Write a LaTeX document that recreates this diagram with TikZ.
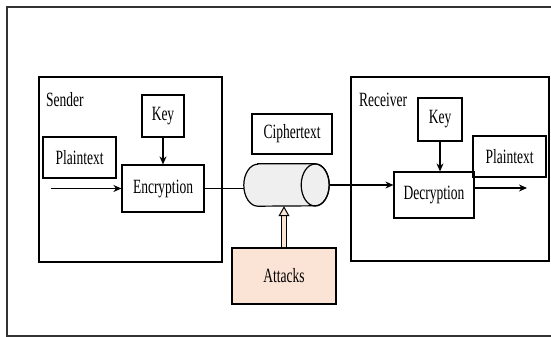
\documentclass[tikz,border=0pt]{standalone}
\usepackage{fontspec}
\setmainfont{Liberation Serif}
\usepackage{graphicx}
\usetikzlibrary{arrows.meta,positioning}
\definecolor{attackfill}{RGB}{251,228,213}
\definecolor{pipefill}{RGB}{239,239,239}
% the lettering is stretched upright
\newcommand{\tall}[1]{\scalebox{1}[1.5]{#1}}

\begin{document}
\begin{tikzpicture}[
            x=1pt,y=-1pt,
            every node/.style={
                inner sep=0pt,
                font=\fontsize{13.5}{16}\selectfont
            },
            box/.style={draw,rectangle,line width=1.2pt},
            flow/.style={line width=1.2pt,-{Stealth[length=8pt,width=7pt]}},
            link/.style={line width=1.2pt},
            hit/.style={double=attackfill,double distance=3.5pt,line width=1pt,
                -{Triangle[open,fill=attackfill,length=10pt,width=11pt]}}
        ]
    % Frame
        \useasboundingbox (0,0) rectangle (551,337);
        \draw[black!80,line width=1.4pt] (551,7) -- (7,7) -- (7,336) -- (551,336);
    % Sender
        \node[box,minimum width=183,minimum height=185] (sender) at (130.5,169.5) {};
        \node[anchor=west] (senderlbl) at (46,100) {\tall{Sender}};
        \node[box,minimum width=42,minimum height=42] (keya) at (163,116) {\tall{Key}};
        \node[box,minimum width=73,minimum height=41] (plaina) at (79.5,157.5) {\tall{Plaintext}};
        \node[box,minimum width=82,minimum height=47] (enc) at (163,188.5) {\tall{Encryption}};
        \coordinate (in) at (51,188.5);
    % Channel
        \node[minimum width=85,minimum height=42] (pipe) at (286.5,185) {};
        \draw[line width=1.2pt,fill=pipefill]
            ([xshift=14pt]pipe.north west) -- ([xshift=-14pt]pipe.north east)
            arc(-90:90:14 and 21) -- ([xshift=14pt]pipe.south west)
            arc(90:270:14 and 21) -- cycle;
        \draw[line width=1.2pt] ([xshift=-14pt]pipe.east) ellipse (14 and 21);
        \node[box,minimum width=80,minimum height=40] (cipher) at (292,134) {\tall{Ciphertext}};
        \node[box,fill=attackfill,minimum width=104,minimum height=56] (attacks) at (284,276) {\tall{Attacks}};
    % Receiver
        \node[box,minimum width=198,minimum height=184] (receiver) at (450,169) {};
        \node[anchor=west] (receiverlbl) at (359,100) {\tall{Receiver}};
        \node[box,minimum width=44,minimum height=43] (keyb) at (440,119.5) {\tall{Key}};
        \node[box,minimum width=73,minimum height=41] (plainb) at (509.5,156.5) {\tall{Plaintext}};
        \node[box,minimum width=80,minimum height=46] (dec) at (434,195) {\tall{Decryption}};
        \coordinate (out) at (527,188);
    % Arrows
        \draw[flow] (in) -- (enc);
        \draw[flow] (keya) -- (enc);
        \draw[link] (enc.east) -- (enc.east -| pipe.west);
        \draw[flow] (pipe.east) -- (pipe.east -| dec.west);
        \draw[flow] (keyb.south) -- (keyb.south |- dec.north);
        \draw[flow] (dec.east |- out) -- (out);
        \draw[hit] (attacks.north) -- (attacks.north |- pipe.south);
    \end{tikzpicture}
\end{document}
